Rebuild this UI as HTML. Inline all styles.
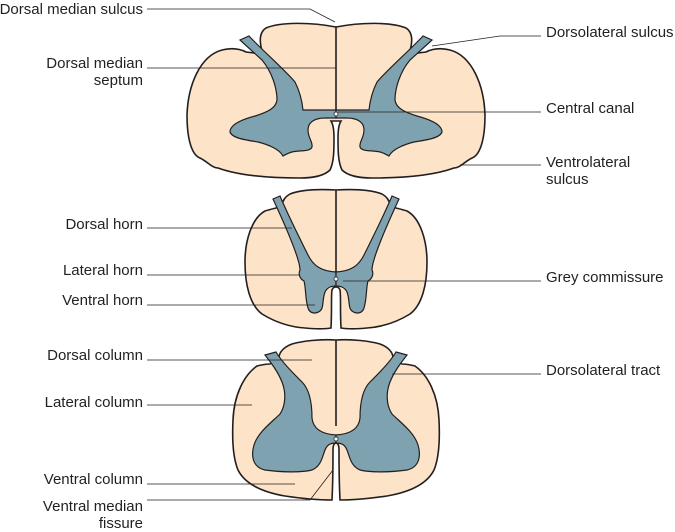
<!DOCTYPE html>
<html><head><meta charset="utf-8">
<style>
html,body{margin:0;padding:0;background:#fff;}
svg{display:block;}
text{font-family:"Liberation Sans",sans-serif;font-size:15px;fill:#231f20;}
</style></head><body>
<svg width="675" height="532" viewBox="0 0 675 532" xmlns="http://www.w3.org/2000/svg">
<defs>
 <!-- Section 1 left half -->
 <g id="s1">
  <path id="o1" d="M336,27 C310,22 280,22 266,28 C258,33 260,45 263,54 L246,52 C238,48 230,48 222,50 C200,56 188,85 187,115 C187,140 192,155 200,158 C208,162 212,168 218,168 C240,176 270,178 300,178 C315,178 325,175 330,170 C334,162 334,150 334,138 C334,130 333,124 331,121 L336,121" fill="none" stroke="#231f20" stroke-width="1.6"/>
  <path d="M240,40 L249,36 C262,50 285,70 295,82 C300,92 302,100 303,110 L336,110 L336,118 L325,118 C315,118 308,122 308,130 C308,138 313,142 312,147 C310,152 300,150 292,152 C288,153 285,155 283,156 C280,150 270,145 258,142 C245,140 232,138 230,132 C230,125 240,120 255,116 C268,112 276,108 277,100 C277,88 272,72 262,60 Z" fill="#7fa2b0" stroke="#231f20" stroke-width="1.2"/>
 </g>
 <!-- Section 2 left half -->
 <g id="s2">
  <path d="M336,190 C318,189 300,190 290,194 C285,197 283,200 282,205 L276,208 C272,209 268,210 265,211 C252,218 245,240 245,262 C245,285 250,305 262,314 C275,322 290,327 305,328 C315,329 325,329 331,328 C332,310 331,295 332,290 C333,287 335,287 336,287" fill="none" stroke="#231f20" stroke-width="1.6"/>
  <path d="M273,199 L280,196 C288,215 298,235 308,255 C313,265 320,271 336,272 L336,286 C330,286 327,288 325,292 C322,300 324,308 320,311 C316,314 310,314 308,308 C305,298 306,288 304,281 C300,279 298,274 300,270 C300,262 292,240 273,199 Z" fill="#7fa2b0" stroke="#231f20" stroke-width="1.2"/>
 </g>
 <!-- Section 3 left half -->
 <g id="s3">
  <path d="M336,340 C320,339 302,341 292,344 C284,347 279,352 279,358 L270,364 C266,364 261,365 257,366 C244,375 234,395 233,420 C232,440 233,458 238,470 C245,484 262,492 285,496 C305,499 322,500 332,500 C333,480 333,460 333,450 C333,445 334,443 336,443" fill="none" stroke="#231f20" stroke-width="1.6"/>
  <path d="M265,355 L276,352 C282,362 292,372 302,382 C310,390 312,405 312,418 C313,428 320,434 336,435 L336,443 C330,443 327,445 325,450 C322,458 321,466 312,470 C300,473 280,472 265,470 C252,467 251,455 254,445 C258,432 272,422 280,414 C286,405 286,392 282,382 C278,372 272,364 265,355 Z" fill="#7fa2b0" stroke="#231f20" stroke-width="1.2"/>
 </g>
</defs>
<!-- beige fills (full symmetric) -->
<g fill="#fde3c8">
 <path d="M336,27 C310,22 280,22 266,28 C258,33 260,45 263,54 L246,52 C238,48 230,48 222,50 C200,56 188,85 187,115 C187,140 192,155 200,158 C208,162 212,168 218,168 C240,176 270,178 300,178 C315,178 325,175 330,170 C334,162 334,150 334,138 C334,130 333,124 331,121 L341,121 C339,124 338,130 338,138 C338,150 338,162 342,170 C347,175 357,178 372,178 C402,178 432,176 454,168 C460,168 464,162 472,158 C480,155 485,140 485,115 C484,85 472,56 450,50 C442,48 434,48 426,52 L409,54 C412,45 414,33 406,28 C392,22 362,22 336,27 Z"/>
 <path d="M336,190 C318,189 300,190 290,194 C285,197 283,200 282,205 L276,208 C272,209 268,210 265,211 C252,218 245,240 245,262 C245,285 250,305 262,314 C275,322 290,327 305,328 C315,329 325,329 331,328 C332,310 331,295 332,290 C333,287 339,287 340,290 C341,295 340,310 341,328 C347,329 357,329 367,328 C382,327 397,322 410,314 C422,305 427,285 427,262 C427,240 420,218 407,211 C404,210 400,209 396,208 L390,205 C389,200 387,197 382,194 C372,190 354,189 336,190 Z"/>
 <path d="M336,340 C320,339 302,341 292,344 C284,347 279,352 279,358 L270,364 C266,364 261,365 257,366 C244,375 234,395 233,420 C232,440 233,458 238,470 C245,484 262,492 285,496 C305,499 322,500 332,500 C333,480 333,460 333,450 C333,445 339,445 339,450 C339,460 339,480 340,500 C350,500 367,499 387,496 C410,492 427,484 434,470 C439,458 440,440 439,420 C438,395 428,375 415,366 C411,365 406,364 402,364 L393,358 C393,352 388,347 380,344 C370,341 352,339 336,340 Z"/>
</g>
<use href="#s1"/><use href="#s1" transform="translate(672,0) scale(-1,1)"/>
<use href="#s2"/><use href="#s2" transform="translate(672,0) scale(-1,1)"/>
<use href="#s3"/><use href="#s3" transform="translate(672,0) scale(-1,1)"/>
<!-- median septa -->
<g stroke="#231f20" stroke-width="1.6">
 <line x1="336" y1="27" x2="336" y2="110"/>
 <line x1="336" y1="190" x2="336" y2="272"/>
 <line x1="336" y1="340" x2="336" y2="426"/>
</g>
<g fill="#fff" stroke="#231f20" stroke-width="0.8">
 <circle cx="336" cy="114" r="2"/>
 <circle cx="336" cy="279" r="2"/>
 <circle cx="336" cy="439" r="2"/>
</g>
<!-- leader lines -->
<g stroke="#231f20" stroke-width="0.8" fill="none">
 <polyline points="147,9 310,9 335,22"/>
 <line x1="147" y1="68" x2="336" y2="68"/>
 <polyline points="541,36 500,36 432,46"/>
 <line x1="338" y1="112" x2="541" y2="112"/>
 <line x1="460" y1="165" x2="541" y2="165"/>
 <line x1="147" y1="228" x2="292" y2="228"/>
 <line x1="147" y1="275" x2="300" y2="275"/>
 <line x1="147" y1="305" x2="315" y2="305"/>
 <line x1="343" y1="281" x2="541" y2="281"/>
 <line x1="147" y1="360" x2="312" y2="360"/>
 <line x1="392" y1="374" x2="541" y2="374"/>
 <line x1="147" y1="405" x2="252" y2="405"/>
 <line x1="147" y1="484" x2="295" y2="484"/>
 <polyline points="147,500 310,500 333,470"/>
</g>
<!-- labels -->
<g text-anchor="end">
 <text x="143" y="14">Dorsal median sulcus</text>
 <text x="143" y="68">Dorsal median</text>
 <text x="143" y="85">septum</text>
 <text x="143" y="229">Dorsal horn</text>
 <text x="143" y="275">Lateral horn</text>
 <text x="143" y="305">Ventral horn</text>
 <text x="143" y="360">Dorsal column</text>
 <text x="143" y="407">Lateral column</text>
 <text x="143" y="484">Ventral column</text>
 <text x="143" y="511">Ventral median</text>
 <text x="143" y="528">fissure</text>
</g>
<text x="546" y="37">Dorsolateral sulcus</text>
<text x="546" y="113">Central canal</text>
<text x="546" y="167">Ventrolateral</text>
<text x="546" y="184">sulcus</text>
<text x="546" y="282">Grey commissure</text>
<text x="546" y="375">Dorsolateral tract</text>
</svg>
</body></html>
